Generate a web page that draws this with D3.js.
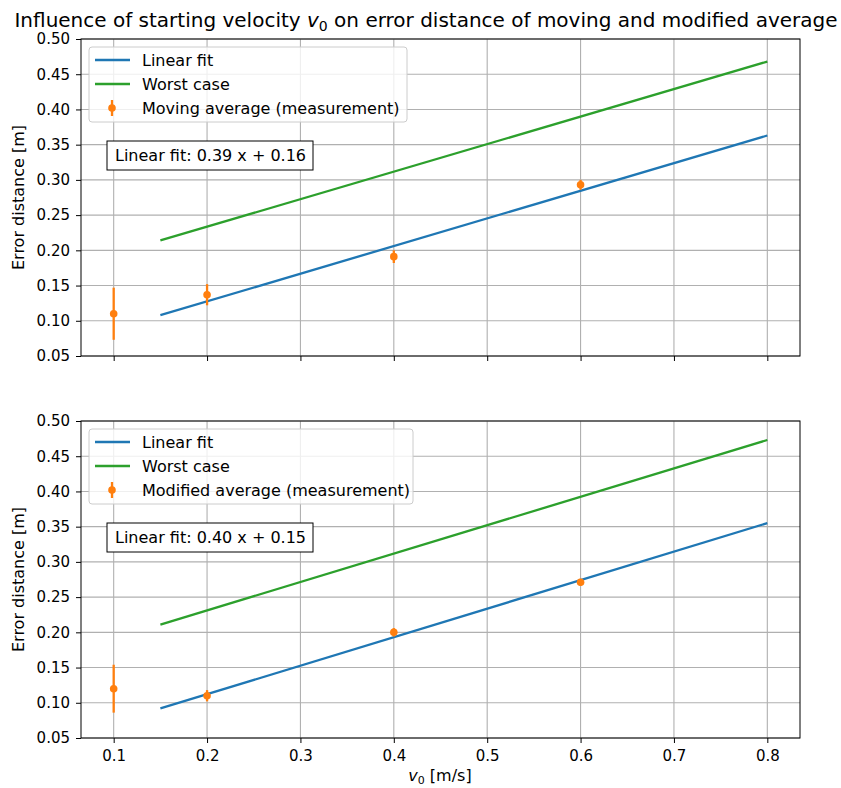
<!DOCTYPE html>
<html>
<head>
<meta charset="utf-8">
<script src="https://cdn.jsdelivr.net/npm/d3@7"></script>
<style>
  body { margin: 0; background: #fff; }
  text { font-family: "DejaVu Sans", sans-serif; }
</style>
</head>
<body>
<div id="chart"></div>
<script>
// values
const xTicks = [0.1, 0.2, 0.3, 0.4, 0.5, 0.6, 0.7, 0.8];
const yTicks = [0.05, 0.10, 0.15, 0.20, 0.25, 0.30, 0.35, 0.40, 0.45, 0.50];

const fitX = [0.15, 0.8];
const movingFit = [0.108, 0.363];
const movingWorst = [0.214, 0.468];
const modifiedFit = [0.092, 0.355];
const modifiedWorst = [0.211, 0.473];

const measX = [0.1, 0.2, 0.4, 0.6];
const movingMean = [0.110, 0.137, 0.191, 0.293];
const movingErr = [0.037, 0.015, 0.009, 0.007];
const modifiedMean = [0.120, 0.110, 0.200, 0.271];
const modifiedErr = [0.034, 0.008, 0.006, 0.005];

const panels = [
  { top: 39, fit: movingFit, worst: movingWorst, mean: movingMean, err: movingErr,
    label: "Moving average (measurement)", note: "Linear fit: 0.39 x + 0.16", showX: false },
  { top: 421, fit: modifiedFit, worst: modifiedWorst, mean: modifiedMean, err: modifiedErr,
    label: "Modified average (measurement)", note: "Linear fit: 0.40 x + 0.15", showX: true }
];

const W = 841, H = 788;
const left = 81, right = 800, ph = 317;
const blue = "#1f77b4", green = "#2ca02c", orange = "#ff7f0e";
const tickFs = 15, labelFs = 16, lineW = 2.3;

const svg = d3.select("#chart").append("svg").attr("width", W).attr("height", H);

const x = d3.scaleLinear().domain([0.065, 0.835]).range([left, right]);

// title
const title = svg.append("text").attr("x", 426).attr("y", 27)
  .attr("text-anchor", "middle").attr("font-size", 20).attr("fill", "#000");
title.append("tspan").text("Influence of starting velocity ");
title.append("tspan").attr("font-style", "italic").text("v");
title.append("tspan").attr("font-size", 14).attr("dy", 4).text("0");
title.append("tspan").attr("dy", -4).text(" on error distance of moving and modified average");

panels.forEach((p) => {
  const y = d3.scaleLinear().domain([0.05, 0.5]).range([p.top + ph, p.top]);
  const g = svg.append("g");

  // grid
  g.selectAll(".gx").data(xTicks).enter().append("line")
    .attr("x1", (d) => x(d)).attr("x2", (d) => x(d))
    .attr("y1", p.top).attr("y2", p.top + ph)
    .attr("stroke", "#b0b0b0").attr("stroke-width", 1.1);
  g.selectAll(".gy").data(yTicks).enter().append("line")
    .attr("x1", left).attr("x2", right)
    .attr("y1", (d) => y(d)).attr("y2", (d) => y(d))
    .attr("stroke", "#b0b0b0").attr("stroke-width", 1.1);

  const line = d3.line().x((d) => x(d[0])).y((d) => y(d[1]));
  g.append("path").datum(fitX.map((v, i) => [v, p.fit[i]])).attr("d", line)
    .attr("fill", "none").attr("stroke", blue).attr("stroke-width", lineW);
  g.append("path").datum(fitX.map((v, i) => [v, p.worst[i]])).attr("d", line)
    .attr("fill", "none").attr("stroke", green).attr("stroke-width", lineW);

  // error bars + markers
  const pts = measX.map((v, i) => ({ x: v, m: p.mean[i], e: p.err[i] }));
  g.selectAll(".eb").data(pts).enter().append("line")
    .attr("x1", (d) => x(d.x)).attr("x2", (d) => x(d.x))
    .attr("y1", (d) => y(d.m - d.e)).attr("y2", (d) => y(d.m + d.e))
    .attr("stroke", orange).attr("stroke-width", lineW);
  g.selectAll(".pt").data(pts).enter().append("circle")
    .attr("cx", (d) => x(d.x)).attr("cy", (d) => y(d.m)).attr("r", 3.8)
    .attr("fill", orange);

  // frame and axes
  g.append("rect").attr("x", left).attr("y", p.top).attr("width", right - left).attr("height", ph)
    .attr("fill", "none").attr("stroke", "#000").attr("stroke-width", 1);

  const yAxis = g.append("g").attr("transform", `translate(${left},0)`)
    .call(d3.axisLeft(y).tickValues(yTicks).tickFormat(d3.format(".2f")).tickSize(5).tickPadding(6));
  const xAxis = g.append("g").attr("transform", `translate(0,${p.top + ph})`)
    .call(d3.axisBottom(x).tickValues(xTicks).tickFormat(p.showX ? d3.format(".1f") : () => "")
      .tickSize(5).tickPadding(7));
  [yAxis, xAxis].forEach((a) => {
    a.select(".domain").remove();
    a.selectAll("text").attr("font-size", tickFs).attr("fill", "#000").attr("font-family", "DejaVu Sans");
    a.selectAll("line").attr("stroke", "#000");
  });

  g.append("text").attr("transform", `translate(24,${p.top + ph / 2}) rotate(-90)`)
    .attr("text-anchor", "middle").attr("font-size", labelFs).text("Error distance [m]");

  // legend
  const lx = 89, ly = p.top + 8;
  const lw = p.showX ? 324 : 318;
  g.append("rect").attr("x", lx).attr("y", ly).attr("width", lw).attr("height", 75)
    .attr("rx", 3).attr("fill", "#fff").attr("fill-opacity", 0.8)
    .attr("stroke", "#ccc").attr("stroke-width", 1);
  const items = [
    { t: "Linear fit", c: blue, kind: "line" },
    { t: "Worst case", c: green, kind: "line" },
    { t: p.label, c: orange, kind: "err" }
  ];
  items.forEach((it, i) => {
    const cy = ly + 13 + i * 24;
    if (it.kind === "line") {
      g.append("line").attr("x1", lx + 6).attr("x2", lx + 41).attr("y1", cy).attr("y2", cy)
        .attr("stroke", it.c).attr("stroke-width", lineW);
    } else {
      g.append("line").attr("x1", lx + 23).attr("x2", lx + 23).attr("y1", cy - 8).attr("y2", cy + 8)
        .attr("stroke", it.c).attr("stroke-width", lineW);
      g.append("circle").attr("cx", lx + 23).attr("cy", cy).attr("r", 3.8).attr("fill", it.c);
    }
    g.append("text").attr("x", lx + 53).attr("y", cy + 6).attr("font-size", labelFs).text(it.t);
  });

  // annotation box
  const by = p.top + 102;
  g.append("rect").attr("x", 107).attr("y", by).attr("width", 206).attr("height", 29)
    .attr("fill", "#fff").attr("stroke", "#000").attr("stroke-width", 1);
  g.append("text").attr("x", 115).attr("y", by + 20).attr("font-size", labelFs).text(p.note);
});

// x label
const xl = svg.append("text").attr("x", 440).attr("y", 781).attr("text-anchor", "middle").attr("font-size", labelFs);
xl.append("tspan").attr("font-style", "italic").text("v");
xl.append("tspan").attr("font-size", 11).attr("dy", 3).text("0");
xl.append("tspan").attr("dy", -3).text(" [m/s]");
</script>
</body>
</html>
